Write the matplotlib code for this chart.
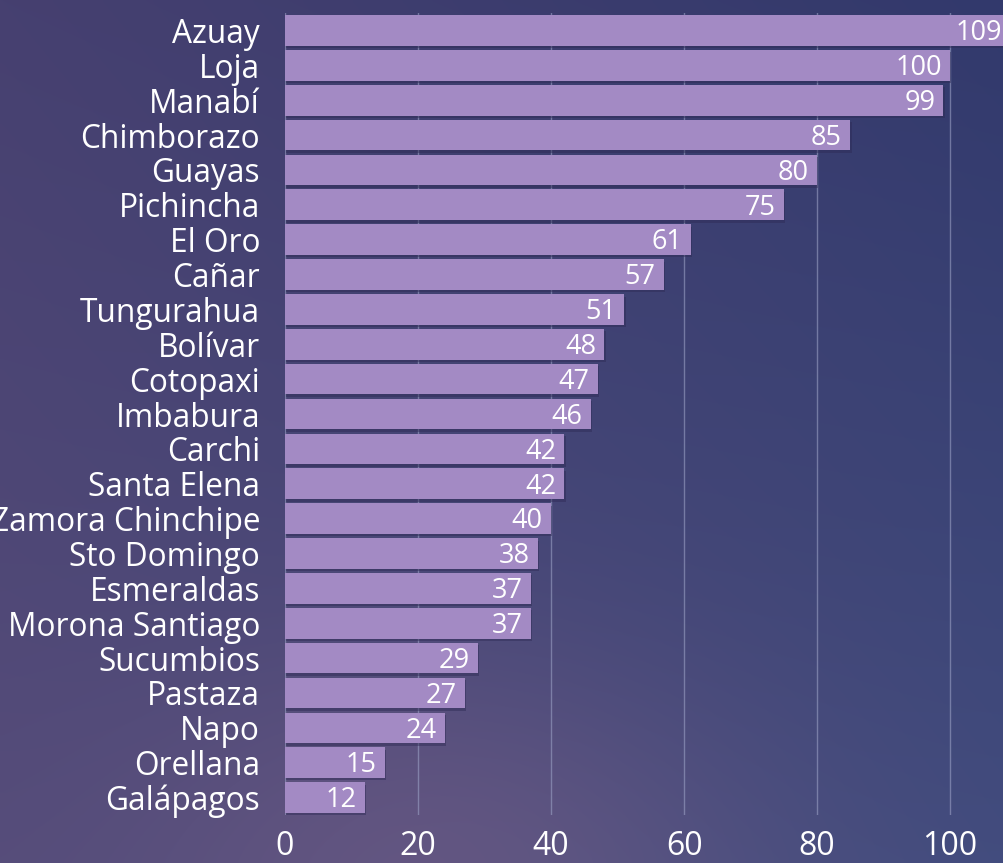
"""
Ecuador provinces: horizontal bar chart on a dusk-gradient background.
"""

import matplotlib
matplotlib.use("Agg")  # headless backend
import matplotlib.pyplot as plt
import numpy as np

provinces = [
    "Azuay", "Loja", "Manabí", "Chimborazo", "Guayas", "Pichincha", "El Oro",
    "Cañar", "Tungurahua", "Bolívar", "Cotopaxi", "Imbabura", "Carchi",
    "Santa Elena", "Zamora Chinchipe", "Sto Domingo", "Esmeraldas",
    "Morona Santiago", "Sucumbios", "Pastaza", "Napo", "Orellana", "Galápagos",
]
counts = [109, 100, 99, 85, 80, 75, 61, 57, 51, 48, 47, 46, 42, 42, 40, 38,
          37, 37, 29, 27, 24, 15, 12]
x_ticks = [0, 20, 40, 60, 80, 100]

BAR_COLOR = "#a38ac4"
SHADOW_COLOR = "#2e2a55"
TEXT_COLOR = "white"
FONT = ["Open Sans", "DejaVu Sans"]

plt.rcParams["font.family"] = FONT

fig = plt.figure(figsize=(10.04, 8.63), dpi=100)

# background gradient (corner colours blended)
bg = fig.add_axes([0, 0, 1, 1])
tl = np.array([70, 64, 112]) / 255
tr = np.array([50, 57, 108]) / 255
bl = np.array([84, 76, 122]) / 255
br = np.array([66, 76, 126]) / 255
u = np.linspace(0, 1, 200)[None, :, None]
v = np.linspace(0, 1, 200)[:, None, None]
img = (1 - v) * ((1 - u) * tl + u * tr) + v * ((1 - u) * bl + u * br)
# faint warm glow near the bottom
glow = np.exp(-(((u - 0.45) / 0.3) ** 2) - (((v - 1.0) / 0.25) ** 2))
img = img + glow * (np.array([22, 10, 6]) / 255)
bg.imshow(np.clip(img, 0, 1), aspect="auto", extent=[0, 1, 0, 1],
          interpolation="bicubic")
bg.set_axis_off()

ax = fig.add_axes([0.2839, 0.0556, 0.7161, 0.9293])
ax.patch.set_alpha(0)

y = np.arange(len(provinces))
# soft drop shadow under each bar
ax.barh(y + 0.07, counts, height=0.88, left=0.2, color=SHADOW_COLOR,
        alpha=0.45, zorder=2)
ax.barh(y, counts, height=0.88, color=BAR_COLOR, zorder=3)

for yi, val in zip(y, counts):
    ax.annotate(str(val), xy=(val, yi), xytext=(-6, -2),
                textcoords="offset points", ha="right", va="center",
                color=TEXT_COLOR, fontsize=19.5, zorder=4,
                annotation_clip=False)

ax.set_xlim(0, 108.1)
ax.set_ylim(len(provinces) - 0.5, -0.5)
ax.set_yticks(y)
ax.set_yticklabels(provinces)
ax.set_xticks(x_ticks)

ax.grid(axis="x", color="#9aa0c4", alpha=0.6, linewidth=1, zorder=1)
ax.set_axisbelow(True)
for spine in ax.spines.values():
    spine.set_visible(False)

ax.tick_params(axis="y", length=0, pad=18, labelsize=22.8,
               labelcolor=TEXT_COLOR)
ax.tick_params(axis="x", length=0, pad=11, labelsize=23,
               labelcolor=TEXT_COLOR)

plt.savefig("out.png", dpi=100)
plt.close()
